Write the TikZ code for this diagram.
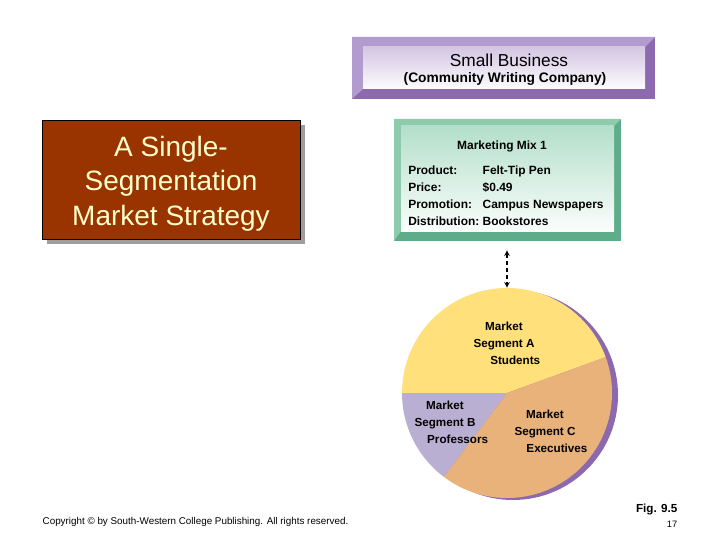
\documentclass[tikz,border=0pt]{standalone}
\usepackage{fontspec}
\setmainfont{Liberation Sans}
\usepackage{tikz}
\usetikzlibrary{arrows,positioning}
\definecolor{bizlight}{HTML}{B29BCE}
\definecolor{bizdark}{HTML}{8D69B0}
\definecolor{bizpanel}{HTML}{D3C6E3}
\definecolor{mixlight}{HTML}{8ECAAC}
\definecolor{mixdark}{HTML}{5EAD8A}
\definecolor{mixpanel}{HTML}{B3DFCA}
\definecolor{brick}{HTML}{993300}
\definecolor{cream}{HTML}{FFFFCC}
\definecolor{segA}{HTML}{FFE07A}
\definecolor{segB}{HTML}{B9AFD3}
\definecolor{segC}{HTML}{E8B27A}
\definecolor{pieshadow}{HTML}{8C69AF}

\begin{document}
\begin{tikzpicture}[x=0.025cm, y=0.025cm,
  every node/.style={inner sep=1pt},
  seglabel/.style={font=\fontsize{8.3}{12}\selectfont\bfseries, align=center},
  mixtext/.style={font=\fontsize{8.5}{12}\selectfont\bfseries},
  link/.style={<->, >=stealth, densely dashed, thick}
]
\useasboundingbox (0,0) rectangle (720,540);

% small business
\fill[bizdark] (352,441) rectangle (655,503);
\fill[bizlight] (352,503) -- (655,503) -- (645,493) -- (363,493) -- (363,451) -- (352,441) -- cycle;
\shade[top color=bizpanel, bottom color=white!94!bizpanel] (363,451) rectangle (645,493);
\node[font=\fontsize{12.3}{14}\selectfont] (bizname) at (509,479.5) {Small Business};
\node[font=\fontsize{9.8}{12}\selectfont\bfseries] (bizsub) at (505,461.5) {(Community Writing Company)};

% title box
\fill[black!38] (47,296) rectangle (305,415);
\node[draw=black, fill=brick, minimum width=6.45cm, minimum height=2.975cm] (title) at (171,360.5) {};
\node[text=cream, font=\fontsize{19.9}{24.5}\selectfont, align=center] (titletext)
  at ([yshift=-0.1cm]title.center) {A Single-\\Segmentation\\Market Strategy};

% marketing mix
\fill[mixdark] (394,299) rectangle (621,421);
\fill[mixlight] (394,421) -- (621,421) -- (614,414) -- (401,414) -- (401,309) -- (394,299) -- cycle;
\shade[top color=mixpanel, bottom color=white!94!mixpanel] (401,309) rectangle (614,414);
\node[minimum width=5.675cm, minimum height=3.05cm] (mix) at (507.5,360) {};
\node[mixtext] (mixtitle) at (502,393.5) {Marketing Mix 1};
\node[mixtext, anchor=north west] (mixrows) at (406.6,378.5) {%
  \begin{tabular}{@{}l@{\hspace{2.4pt}}l@{}}
  Product: & Felt-Tip Pen\\
  Price: & \$0.49\\
  Promotion: & Campus Newspapers\\
  Distribution: & Bookstores
  \end{tabular}};

% market segments
\fill[pieshadow] (513,145) circle (105);
\fill[segA] (507,147) -- ++(20:105) arc (20:180:105) -- cycle;
\fill[segB] (507,147) -- ++(180:105) arc (180:233:105) -- cycle;
\fill[segC] (507,147) -- ++(233:105) arc (233:380:105) -- cycle;
\node[circle, minimum size=5.25cm] (pie) at (507,147) {};
\node[seglabel] (segmentA) at (504,197) {Market\\Segment A\\\hspace*{16pt}Students};
\node[seglabel] (segmentB) at (445,118) {Market\\Segment B\\\hspace*{18pt}Professors};
\node[seglabel] (segmentC) at (545,109) {Market\\Segment C\\\hspace*{17pt}Executives};

\draw[link, shorten <=0.225cm] (mix.south -| pie.north) -- (pie.north);

% footer
\node[font=\fontsize{7}{8}\selectfont, anchor=west] (copyright) at (41,18)
  {Copyright © by South-Western College Publishing. All rights reserved.};
\node[font=\fontsize{8.3}{9}\selectfont\bfseries, anchor=east] (fig) at (679,30) {Fig. 9.5};
\node[font=\fontsize{6.6}{8}\selectfont] (page) at (672,16) {17};
\end{tikzpicture}
\end{document}
